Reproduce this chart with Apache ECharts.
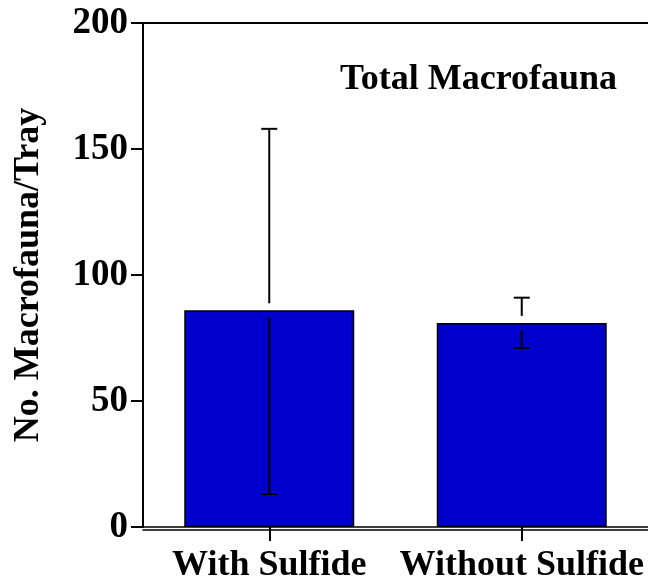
<!DOCTYPE html>
<html>
<head>
<meta charset="utf-8">
<script src="https://cdn.jsdelivr.net/npm/echarts@6/dist/echarts.min.js"></script>
<style>
html,body{margin:0;padding:0;background:#fff;}
#chart{width:648px;height:584px;}
</style>
</head>
<body>
<div id="chart"></div>
<script>
var categories = ['With Sulfide', 'Without Sulfide'];
var means = [86, 81];
var errLow = [13, 71];
var errHigh = [158, 91];
var yTicks = [0, 50, 100, 150, 200];
var chartTitle = 'Total Macrofauna';
var yName = 'No. Macrofauna/Tray';

var FONT = '"Liberation Serif", "Times New Roman", serif';
var chart = echarts.init(document.getElementById('chart'));

var errData = categories.map(function (c, i) { return [i, means[i], errLow[i], errHigh[i]]; });

var option = {
  animation: false,
  backgroundColor: '#fff',
  title: {
    text: chartTitle,
    left: 335, top: 57,
    textStyle: { fontFamily: FONT, fontSize: 36, fontWeight: 'bold', color: '#000' }
  },
  grid: { left: 143, right: 0, top: 23, bottom: 55, containLabel: false },
  xAxis: [
    {
      type: 'category', data: categories, position: 'bottom',
      axisLine: { show: true, lineStyle: { color: '#000', width: 1.5 } },
      axisTick: { show: true, alignWithLabel: true, length: 14, lineStyle: { color: '#000', width: 2 } },
      axisLabel: { color: '#000', fontFamily: FONT, fontSize: 36, fontWeight: 'bold', margin: 21, interval: 0 },
      splitLine: { show: false }
    },
    {
      type: 'category', data: categories, position: 'top',
      axisLine: { show: true, lineStyle: { color: '#000', width: 2 } },
      axisTick: { show: false }, axisLabel: { show: false }, splitLine: { show: false }
    },
    {
      type: 'category', data: categories, position: 'bottom', offset: 3,
      axisLine: { show: true, lineStyle: { color: '#000', width: 1.5 } },
      axisTick: { show: false }, axisLabel: { show: false }, splitLine: { show: false }
    }
  ],
  yAxis: {
    type: 'value', min: yTicks[0], max: yTicks[yTicks.length - 1], interval: 50,
    name: yName, nameLocation: 'middle', nameRotate: 90, nameGap: 96,
    nameTextStyle: { fontFamily: FONT, fontSize: 36, fontWeight: 'bold', color: '#000' },
    axisLine: { show: true, lineStyle: { color: '#000', width: 2 } },
    axisTick: { show: true, length: 12, lineStyle: { color: '#000', width: 2 } },
    axisLabel: { color: '#000', fontFamily: FONT, fontSize: 37, fontWeight: 'bold', margin: 15 },
    splitLine: { show: false }
  },
  series: [
    {
      type: 'bar', data: means, barWidth: 170, xAxisIndex: 0,
      itemStyle: { color: '#0000CC', borderColor: '#000', borderWidth: 1.5 },
      z: 2
    },
    {
      type: 'custom', data: errData, xAxisIndex: 0, z: 3,
      renderItem: function (params, api) {
        var x = api.value(0);
        var mean = api.coord([x, api.value(1)]);
        var lo = api.coord([x, api.value(2)]);
        var hi = api.coord([x, api.value(3)]);
        var cx = mean[0], gap = 7, cap = 8;
        var st = { stroke: '#000', lineWidth: 2 };
        return {
          type: 'group',
          children: [
            { type: 'line', shape: { x1: cx, y1: hi[1], x2: cx, y2: mean[1] - gap }, style: st },
            { type: 'line', shape: { x1: cx - cap, y1: hi[1], x2: cx + cap, y2: hi[1] }, style: st },
            { type: 'line', shape: { x1: cx, y1: mean[1] + gap, x2: cx, y2: lo[1] }, style: st },
            { type: 'line', shape: { x1: cx - cap, y1: lo[1], x2: cx + cap, y2: lo[1] }, style: st }
          ]
        };
      }
    }
  ]
};
chart.setOption(option);
</script>
</body>
</html>
